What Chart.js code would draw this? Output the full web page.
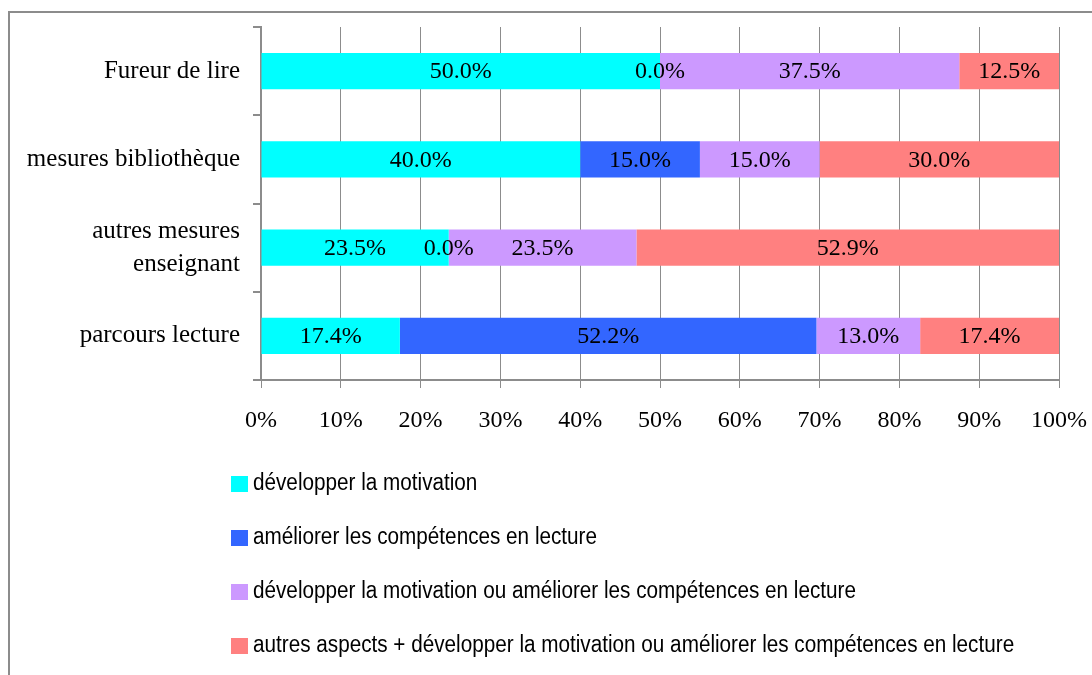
<!DOCTYPE html>
<html>
<head>
<meta charset="utf-8">
<script src="https://cdn.jsdelivr.net/npm/chart.js@4"></script>
<style>
  html, body { margin: 0; padding: 0; background: #fff; overflow: hidden; }
  #wrap { width: 1092px; height: 675px; position: relative; }
</style>
</head>
<body>
<div id="wrap"><canvas id="chart1" width="1092" height="675"></canvas></div>
<script>
var categories = ["Fureur de lire", "mesures bibliothèque", ["autres mesures", "enseignant"], "parcours lecture"];
var seriesNames = [
	"développer la motivation",
	"améliorer les compétences en lecture",
	"développer la motivation ou améliorer les compétences en lecture",
	"autres aspects + développer la motivation ou améliorer les compétences en lecture"
];
var motivation = [50.0, 40.0, 23.5, 17.4];
var competences = [0.0, 15.0, 0.0, 52.2];
var motivOuComp = [37.5, 15.0, 23.5, 13.0];
var autresAspects = [12.5, 30.0, 52.9, 17.4];
var colors = ["#00FFFF", "#3366FF", "#CC99FF", "#FF8080"];
var xTicks = [0, 10, 20, 30, 40, 50, 60, 70, 80, 90, 100];

var serif = "'Liberation Serif', 'Times New Roman', serif";
var sans = "'Liberation Sans', Arial, sans-serif";

// frame around the whole chart
var framePlugin = {
	id: "frame",
	beforeDraw: function(chart) {
		var c = chart.ctx;
		c.save();
		c.strokeStyle = "#8c8c8c";
		c.lineWidth = 2;
		c.strokeRect(9, 12, 1100, 700);
		c.restore();
	}
};

// value labels centred in each segment (shows the rounded percentages)
var valueLabels = {
	id: "valueLabels",
	afterDatasetsDraw: function(chart) {
		var c = chart.ctx;
		c.save();
		c.font = "24px " + serif;
		c.fillStyle = "#000";
		c.textAlign = "center";
		c.textBaseline = "middle";
		chart.data.datasets.forEach(function(ds, i) {
			var meta = chart.getDatasetMeta(i);
			meta.data.forEach(function(bar, j) {
				var x = (bar.x + bar.base) / 2;
				c.fillText(ds.shown[j].toFixed(1) + "%", x, bar.y + 1);
			});
		});
		c.restore();
	}
};

// vertical legend under the plot
var listLegend = {
	id: "listLegend",
	afterDraw: function(chart) {
		var c = chart.ctx;
		c.save();
		c.textBaseline = "middle";
		chart.data.datasets.forEach(function(ds, i) {
			var y = 484 + i * 54;
			c.fillStyle = ds.backgroundColor;
			c.fillRect(231, y - 8, 17, 16);
			c.save();
			c.translate(253, y);
			c.scale(0.9, 1);
			c.font = "23px " + sans;
			c.fillStyle = "#000";
			c.fillText(ds.label, 0, 0);
			c.restore();
		});
		c.restore();
	}
};

var allSeries = [motivation, competences, motivOuComp, autresAspects];
// 100% stacked: each row is scaled to its own total
var rowTotals = categories.map(function(_, j) {
	return allSeries.reduce(function(s, arr) { return s + arr[j]; }, 0);
});
var datasets = allSeries.map(function(vals, i) {
	return {
		label: seriesNames[i],
		data: vals.map(function(v, j) { return v / rowTotals[j] * 100; }),
		shown: vals,
		backgroundColor: colors[i],
		borderWidth: 0,
		categoryPercentage: 1,
		barPercentage: 0.41
	};
});

new Chart(document.getElementById("chart1"), {
	type: "bar",
	data: { labels: categories, datasets: datasets },
	options: {
		indexAxis: "y",
		responsive: false,
		animation: false,
		layout: { padding: { top: 27, left: 0, right: 33, bottom: 215 } },
		plugins: {
			legend: { display: false },
			tooltip: { enabled: false }
		},
		scales: {
			x: {
				stacked: true,
				min: 0,
				max: 100,
				afterBuildTicks: function(s) {
					s.ticks = xTicks.map(function(v) { return { value: v }; });
				},
				afterFit: function(s) {
					s.height = 80;
					s.paddingLeft = 0;
					s.paddingRight = 0;
				},
				ticks: {
					callback: function(v) { return v + "%"; },
					font: { family: serif, size: 24 },
					color: "#000",
					padding: 18,
					maxRotation: 0
				},
				grid: { color: "#8c8c8c", lineWidth: 1, tickLength: 8 },
				border: { color: "#8c8c8c", width: 2 }
			},
			y: {
				stacked: true,
				afterFit: function(s) {
					s.width = 261;
					s.paddingTop = 0;
					s.paddingBottom = 0;
				},
				ticks: {
					font: { family: serif, size: 25, lineHeight: 1.33 },
					color: "#000",
					padding: 13
				},
				grid: { color: "#8c8c8c", lineWidth: 2, drawOnChartArea: false, tickLength: 8, offset: true },
				border: { color: "#8c8c8c", width: 2 }
			}
		}
	},
	plugins: [framePlugin, valueLabels, listLegend]
});
</script>
</body>
</html>
